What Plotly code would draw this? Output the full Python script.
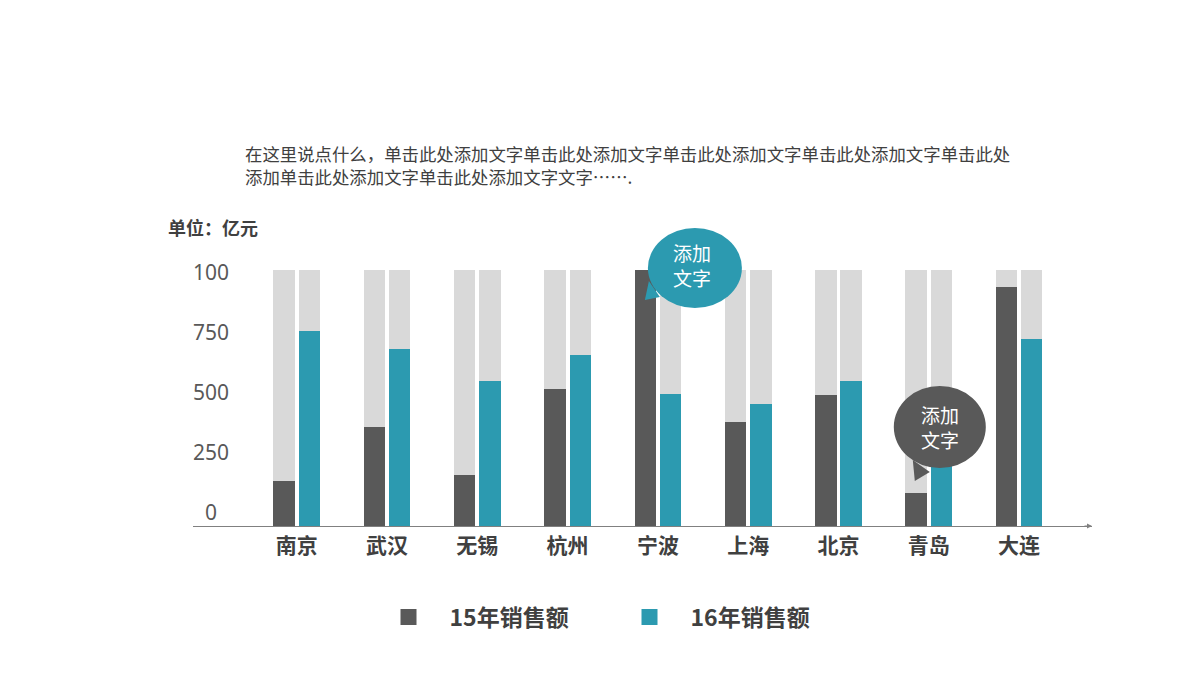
import plotly.graph_objects as go

# ---------------- data ----------------
cities = ["南京", "武汉", "无锡", "杭州", "宁波", "上海", "北京", "青岛", "大连"]
sales_15 = [174, 387, 198, 537, 1000, 408, 512, 130, 935]
sales_16 = [761, 690, 567, 668, 515, 478, 567, 300, 729]
series_names = ["15年销售额", "16年销售额"]
y_full = 1000
y_tick_vals = [0, 250, 500, 750, 1000]
y_tick_text = ["0\u2007", "250", "500", "750", "100"]
para_text = ("在这里说点什么，单击此处添加文字单击此处添加文字单击此处添加文字单击此处添加文字单击此处"
             "<br>添加单击此处添加文字单击此处添加文字文字…….")
unit_text = "单位：亿元"
bubble_text = "添加<br>文字"

# ---------------- styles ----------------
DARK = "#595959"
TEAL = "#2C9AB0"
LIGHT = "#D9D9D9"
TXT = "#404040"
FONT = "Noto Sans CJK SC"

W, H = 1200, 680
L, R, T, B = 193, 1092, 200, 526          # plot area in pixels
PX_PER_CAT = 90.3
FIRST_CAT_PX = 296.7
Y_TOP_PX = 270                            # pixel of y_full
LBL0_PX, LBL1000_PX = 513, 273            # label rows of the reference

x_lo = (L - FIRST_CAT_PX) / PX_PER_CAT
x_hi = (R - FIRST_CAT_PX) / PX_PER_CAT
y1_hi = y_full * (B - T) / (B - Y_TOP_PX)
per = y_full / (LBL0_PX - LBL1000_PX)
y2_lo = -(B - LBL0_PX) * per
y2_hi = (LBL0_PX - T) * per

BW = 0.237
OFF_A = -0.259
OFF_B = 0.022


def px_x(px):
    return (px - L) / (R - L)


def px_y(py):
    return (B - py) / (B - T)


fig = go.Figure()
for off in (OFF_A, OFF_B):
    fig.add_trace(go.Bar(x=cities, y=[y_full] * len(cities), offset=off, width=BW,
                         marker=dict(color=LIGHT, line=dict(width=0)),
                         showlegend=False, hoverinfo="skip"))
fig.add_trace(go.Bar(x=cities, y=sales_15, offset=OFF_A, width=BW, name=series_names[0],
                     marker=dict(color=DARK, line=dict(width=0)), showlegend=False))
fig.add_trace(go.Bar(x=cities, y=sales_16, offset=OFF_B, width=BW, name=series_names[1],
                     marker=dict(color=TEAL, line=dict(width=0)), showlegend=False))
# legend entries (on the label axis)
for nm, col in zip(series_names, (DARK, TEAL)):
    fig.add_trace(go.Scatter(x=[None], y=[None], mode="markers", name=nm, yaxis="y2",
                             marker=dict(symbol="square", size=16, color=col)))

shapes = []
annotations = []


def bubble(cat, yval, cx, cy, rx, ry, tail, color, tx, ty):
    shapes.append(dict(type="circle", xref="x", yref="y", xsizemode="pixel", ysizemode="pixel",
                       xanchor=cat, yanchor=yval, x0=cx - rx, x1=cx + rx, y0=cy - ry, y1=cy + ry,
                       fillcolor=color, line=dict(width=0), layer="above"))
    path = "M{},{} L{},{} L{},{} Z".format(*[v for p in tail for v in p])
    shapes.append(dict(type="path", xref="x", yref="y", xsizemode="pixel", ysizemode="pixel",
                       xanchor=cat, yanchor=yval, path=path,
                       fillcolor=color, line=dict(width=0), layer="above"))
    annotations.append(dict(x=cat, y=yval, xref="x", yref="y", text=bubble_text, showarrow=False,
                            xshift=tx, yshift=ty, align="center",
                            font=dict(family=FONT, size=19, color="white")))


bubble(cities[4], y_full, 37, 2, 47, 40, [(-9, -11), (2, -27), (-13, -30)], TEAL, 34, 5)
bubble(cities[7], 0, 11, 99, 46, 41, [(-16, 66), (1, 54), (-14, 45)], DARK, 11, 99)

# arrow at the right end of the x axis
annotations.append(dict(x=1, y=0, xref="paper", yref="y", ax=-9, ay=0, axref="pixel", ayref="pixel",
                        text="", showarrow=True, arrowhead=2, arrowsize=1, arrowwidth=1,
                        arrowcolor="#808080", standoff=0))
# paragraph and unit text
annotations.append(dict(x=px_x(243), y=px_y(164.5), xref="paper", yref="paper", xanchor="left",
                        yanchor="middle", text=para_text, showarrow=False, align="left",
                        font=dict(family=FONT, size=17.4, color=TXT)))
annotations.append(dict(x=px_x(166), y=px_y(227), xref="paper", yref="paper", xanchor="left",
                        yanchor="middle", text="<b>" + unit_text + "</b>", showarrow=False,
                        font=dict(family=FONT, size=18, color=TXT)))

fig.update_layout(
    width=W, height=H,
    margin=dict(l=L, r=W - R, t=T, b=H - B, pad=0),
    paper_bgcolor="white", plot_bgcolor="white",
    barmode="overlay", bargap=0,
    font=dict(family=FONT, color=TXT),
    xaxis=dict(range=[x_lo, x_hi], showgrid=False, zeroline=False, showline=True,
               linecolor="#808080", linewidth=1, ticks="", fixedrange=True,
               ticklabelstandoff=1,
               tickfont=dict(family=FONT, size=21, color=TXT, weight="bold")),
    yaxis=dict(range=[0, y1_hi], showgrid=False, zeroline=False, showline=False,
               showticklabels=False, ticks=""),
    yaxis2=dict(range=[y2_lo, y2_hi], overlaying="y", anchor="free", side="left",
                position=px_x(229), showgrid=False, zeroline=False, showline=False,
                tickmode="array", tickvals=y_tick_vals, ticktext=y_tick_text, ticks="",
                tickfont=dict(family="Noto Sans", size=21, color=DARK)),
    legend=dict(orientation="h", xref="container", yref="container",
                x=367.5 / W, y=1 - 617 / H, xanchor="left", yanchor="middle",
                entrywidth=154, itemwidth=72, bgcolor="rgba(0,0,0,0)",
                font=dict(family=FONT, size=23, color=TXT, weight="bold")),
    shapes=shapes, annotations=annotations,
    showlegend=True,
)

fig.write_html("out.html")
